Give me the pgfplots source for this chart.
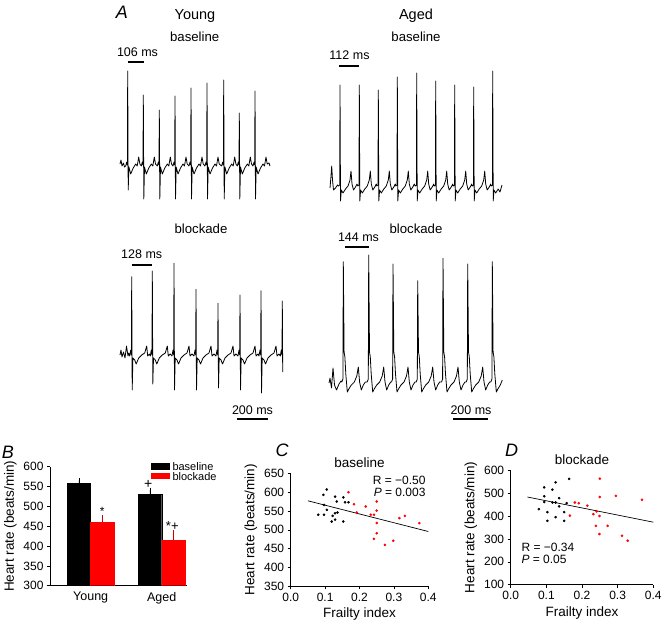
\documentclass[border=0pt]{standalone}
\usepackage{fontspec}
\setmainfont{Liberation Sans}
\usepackage{pgfplots}
\pgfplotsset{compat=1.18}

\newcommand{\fs}[1]{\fontsize{#1}{#1}\selectfont}

\pgfplotsset{
  panel/.style={
    scale only axis,
    anchor=south west,
    axis x line*=bottom,
    axis y line*=left,
    axis line style={line width=0.6pt},
    tick style={black, line width=0.6pt},
    tick align=outside,
    major tick length=3pt,
    /pgf/number format/assume math mode=true,
    ticklabel style={font=\fs{12}},
    label style={font=\fs{13.5}},
    title style={font=\fs{13.5}},
  },
  ecg/.style={black, line width=0.8pt, line join=round},
}

\begin{document}
\begin{tikzpicture}

% ---------- A: ECG traces, drawn in pixel units of the figure ----------
\begin{axis}[at={(0pt,0pt)}, anchor=south west, scale only axis,
    width=663pt, height=625pt, xmin=0, xmax=663, ymin=0, ymax=625,
    y dir=reverse, hide axis, clip=false]

% young, baseline
\addplot[ecg] coordinates {
 (120,164)(121,160)(122,166)(123.5,163)(124.5,167)
 (125.7,166)(126.7,162)(127.4,165)(127.7,71)(128.2,190)(128.9,167)(130.7,174)(133.2,168)(135.7,164)(137.2,166)(138.7,157)(139.9,164)
 (141.3,166)(142.3,162)(143.0,165)(143.3,95)(143.8,199)(144.5,167)(146.3,174)(148.8,168)(151.3,164)(152.8,166)(154.3,157)(155.5,164)
 (157.3,166)(158.3,162)(159.0,165)(159.3,110)(159.8,199)(160.5,167)(162.3,174)(164.8,168)(167.3,164)(168.8,166)(170.3,157)(171.5,164)
 (173,166)(174,162)(174.7,165)(175,96)(175.5,199)(176.2,167)(178,174)(180.5,168)(183,164)(184.5,166)(186,157)(187.2,164)
 (189,166)(190,162)(190.7,165)(191,88)(191.5,199)(192.2,167)(194,174)(196.5,168)(199,164)(200.5,166)(202,157)(203.2,164)
 (205,166)(206,162)(206.7,165)(207,83)(207.5,199)(208.2,167)(210,174)(212.5,168)(215,164)(216.5,166)(218,157)(219.2,164)
 (221.7,166)(222.7,162)(223.4,165)(223.7,80)(224.2,199)(224.9,167)(226.7,174)(229.2,168)(231.7,164)(233.2,166)(234.7,157)(235.9,164)
 (237.3,166)(238.3,162)(239.0,165)(239.3,113)(239.8,199)(240.5,167)(242.3,174)(244.8,168)(247.3,164)(248.8,166)(250.3,157)(251.5,164)
 (253,166)(254,162)(254.7,165)(255,91)(255.5,199)(256.2,167)(258,174)(260.5,168)(263,164)(264.5,166)(266,157)(267.2,164)
 (269,163)(270,166)
};

% aged, baseline
\addplot[ecg] coordinates {
 (330,188)(331,176)(331.7,166)(332.5,180)(333.5,190)(335.5,188)(337.5,185)
 (338.5,186)(339.7,185)(340,85)(340.5,201)(341.3,190)(343,193)(345.5,189)(348,186)(350,180)(351,171)(352,184)(353.5,190)(355.5,187)(357,184)
 (357.8,186)(359,185)(359.3,85)(359.8,201)(360.6,190)(362.3,193)(364.8,189)(367.3,186)(369.3,180)(370.3,171)(371.3,184)(372.8,190)(374.8,187)(376.3,184)
 (376.8,186)(378,185)(378.3,90)(378.8,201)(379.6,190)(381.3,193)(383.8,189)(386.3,186)(388.3,180)(389.3,171)(390.3,184)(391.8,190)(393.8,187)(395.3,184)
 (395.8,186)(397,185)(397.3,77)(397.8,201)(398.6,190)(400.3,193)(402.8,189)(405.3,186)(407.3,180)(408.3,171)(409.3,184)(410.8,190)(412.8,187)(414.3,184)
 (415.2,186)(416.4,185)(416.7,73)(417.2,201)(418,190)(419.7,193)(422.2,189)(424.7,186)(426.7,180)(427.7,171)(428.7,184)(430.2,190)(432.2,187)(433.7,184)
 (434.2,186)(435.4,185)(435.7,81)(436.2,201)(437,190)(438.7,193)(441.2,189)(443.7,186)(445.7,180)(446.7,171)(447.7,184)(449.2,190)(451.2,187)(452.7,184)
 (453.2,186)(454.4,185)(454.7,85)(455.2,201)(456,190)(457.7,193)(460.2,189)(462.7,186)(464.7,180)(465.7,171)(466.7,184)(468.2,190)(470.2,187)(471.7,184)
 (472.2,186)(473.4,185)(473.7,87)(474.2,201)(475,190)(476.7,193)(479.2,189)(481.7,186)(483.7,180)(484.7,171)(485.7,184)(487.2,190)(489.2,187)(490.7,184)
 (491.2,186)(492.4,185)(492.7,71)(493.2,201)(494,190)(495.7,193)(498.2,189)(500,192)(502,185)
};

% young, blockade
\addplot[ecg] coordinates {
 (120,355)(121,350)(122,357)(123.5,352)(125,358)(126.5,346)(128,356)(128.7,353)
 (129.7,356)(130.7,350)(131.4,355)(131.7,276.7)(132.2,390)(132.9,358)(134.7,360)(136.2,364)(138.7,358)(141.7,355)(144.7,353)(146.7,346)(147.7,356)(149.3,354)
 (150.3,356)(151.3,350)(152,355)(152.3,271)(152.8,384)(153.5,358)(155.3,360)(156.8,364)(159.3,358)(162.3,355)(165.3,353)(167.3,346)(168.3,356)(170.3,354)
 (172,356)(173,350)(173.7,355)(174,263.3)(174.5,390)(175.2,358)(177,360)(178.5,364)(181,358)(184,355)(187,353)(189,346)(190,356)(192,354)
 (194,356)(195,350)(195.7,355)(196,289.3)(196.5,390)(197.2,358)(199,360)(200.5,364)(203,358)(206,355)(209,353)(211,346)(212,356)(214,354)
 (216,356)(217,350)(217.7,355)(218,303.3)(218.5,388)(219.2,358)(221,360)(222.5,364)(225,358)(228,355)(231,353)(233,346)(234,356)(236,354)
 (238,356)(239,350)(239.7,355)(240,295)(240.5,390)(241.2,358)(243,360)(244.5,364)(247,358)(250,355)(253,353)(255,346)(256,356)(258,354)
 (259,356)(260,350)(260.7,355)(261,290.7)(261.5,393)(262.2,358)(264,360)(265.5,364)(268,358)(271,355)(274,353)(276,346)(277,356)(279,354)
 (280.3,356)(281.3,350)(282,355)(282.3,301)(282.7,372)
};

% aged, blockade
\addplot[ecg] coordinates {
 (329,383)(330,378)(331.5,388)(333,368)(334.5,385)(336.5,390)(339,384)(341,381)
 (341.8,382)(342.9,379)(343.3,261.7)(344.1,352)(344.9,357)(345.8,374)(347.3,392)(348.8,389)(351.3,385)(354.3,382)(356.8,376)(358.3,367)(359.6,382)(361.3,390)(363.3,385)(365.3,382)
 (367.2,382)(368.3,379)(368.7,255)(369.5,352)(370.3,357)(371.2,374)(372.7,392)(374.2,389)(376.7,385)(379.7,382)(382.2,376)(383.7,367)(385,382)(386.7,390)(388.7,385)(390.7,382)
 (391.5,382)(392.6,379)(393,264)(393.8,352)(394.6,357)(395.5,374)(397,392)(398.5,389)(401,385)(404,382)(406.5,376)(408,367)(409.3,382)(411,390)(413,385)(415,382)
 (416.2,382)(417.3,379)(417.7,280.7)(418.5,352)(419.3,357)(420.2,374)(421.7,392)(423.2,389)(425.7,385)(428.7,382)(431.2,376)(432.7,367)(434,382)(435.7,390)(437.7,385)(439.7,382)
 (441.5,382)(442.6,379)(443,258.3)(443.8,352)(444.6,357)(445.5,374)(447,392)(448.5,389)(451,385)(454,382)(456.5,376)(458,367)(459.3,382)(461,390)(463,385)(465,382)
 (466.2,382)(467.3,379)(467.7,264)(468.5,352)(469.3,357)(470.2,374)(471.7,392)(473.2,389)(475.7,385)(478.7,382)(481.2,376)(482.7,367)(484,382)(485.7,390)(487.7,385)(489.7,382)
 (490.8,382)(491.9,379)(492.3,261.7)(493.1,352)(493.9,357)(494.8,374)(496.3,392)(497.8,389)(500.3,385)(502.3,380)
};

% scale bars (RR intervals and 200 ms)
\addplot[black, line width=1.8pt] coordinates {(127.7,61.7)(144.3,61.7)};
\addplot[black, line width=1.8pt] coordinates {(339.3,66)(359.3,66)};
\addplot[black, line width=1.8pt] coordinates {(131.7,265)(152.3,265)};
\addplot[black, line width=1.8pt] coordinates {(345,247.3)(369,247.3)};
\addplot[black, line width=1.8pt] coordinates {(236.7,419.3)(268.3,419.3)};
\addplot[black, line width=1.8pt] coordinates {(453.3,419.3)(488.3,419.3)};

\node[font=\fs{18}\itshape] at (axis cs:122,12) {A};
\node[font=\fs{14.5}] at (axis cs:195,16) {Young};
\node[font=\fs{14.5}] at (axis cs:416,16) {Aged};
\node[font=\fs{13.2}] at (axis cs:194.7,37) {baseline};
\node[font=\fs{13.2}] at (axis cs:416,37) {baseline};
\node[font=\fs{13.2}] at (axis cs:201,229) {blockade};
\node[font=\fs{13.2}] at (axis cs:416,229) {blockade};
\node[font=\fs{12.5}] at (axis cs:137.5,52) {106 ms};
\node[font=\fs{12.5}] at (axis cs:349.5,55) {112 ms};
\node[font=\fs{12.5}] at (axis cs:141.7,254) {128 ms};
\node[font=\fs{12.5}] at (axis cs:358.5,237.7) {144 ms};
\node[font=\fs{12.5}] at (axis cs:252.5,410) {200 ms};
\node[font=\fs{12.5}] at (axis cs:471,410) {200 ms};

% panel letters, legend of B and annotations of B, C, D
\node[font=\fs{18}\itshape] at (axis cs:8,452) {B};
\node[font=\fs{18}\itshape] at (axis cs:282,450) {C};
\node[font=\fs{18}\itshape] at (axis cs:511.7,450) {D};
\fill[black] (axis cs:151,463.3) rectangle (axis cs:170,470);
\fill[red] (axis cs:151,472.7) rectangle (axis cs:170,479.3);
\node[font=\fs{11}, anchor=west, inner sep=0pt] at (axis cs:172.3,466.3) {baseline};
\node[font=\fs{11}, anchor=west, inner sep=0pt] at (axis cs:172.3,476.5) {blockade};
\node[font=\fs{12}] at (axis cs:102.3,511) {*};
\node[font=\fs{14}] at (axis cs:148.3,484.3) {+};
\node[font=\fs{13}] at (axis cs:172.3,526) {*+};
\node[font=\fs{12}, anchor=east] at (axis cs:429,480.7) {R = −0.50};
\node[font=\fs{12}, anchor=east] at (axis cs:429,492.3) {\textit{P} = 0.003};
\node[font=\fs{12}, anchor=west] at (axis cs:518,547.3) {R = −0.34};
\node[font=\fs{12}, anchor=west] at (axis cs:518,559) {\textit{P} = 0.05};
\end{axis}

% ---------- B: mean heart rate ----------
\begin{axis}[panel, at={(50pt,39.3pt)}, width=136.7pt, height=119pt,
    ybar=0pt, bar width=23.5pt,
    xmin=-0.573, xmax=1.352, ymin=300, ymax=600,
    ytick={300,350,...,600},
    xtick={0,1}, xticklabels={Young, Aged},
    xtick style={draw=none},
    xticklabel style={font=\fs{12.5}},
    ylabel={Heart rate (beats/min)},
]
\addplot[fill=black, draw=black,
    error bars/.cd, y dir=plus, y explicit,
    error bar style={black, line width=0.6pt},
    error mark options={black, mark size=2pt, line width=0.6pt}]
    coordinates {(0,558) +- (0,8.5) (1,530.5) +- (0,11)};
\addplot[fill=red, draw=red,
    error bars/.cd, y dir=plus, y explicit,
    error bar style={red!80!black, line width=0.6pt},
    error mark options={red!80!black, mark size=2pt, line width=0.6pt}]
    coordinates {(0,460) +- (0,12.5) (1,415) +- (0,19.5)};
\end{axis}

% ---------- C: heart rate vs frailty, baseline ----------
\begin{axis}[panel, at={(290.7pt,38.7pt)}, width=137.6pt, height=113pt,
    xmin=0, xmax=0.4, ymin=350, ymax=650,
    xtick={0,0.1,...,0.4}, ytick={350,400,...,650},
    xticklabel style={/pgf/number format/.cd, fixed, fixed zerofill, precision=1},
    xlabel={Frailty index}, ylabel={Heart rate (beats/min)},
    title={baseline}, title style={yshift=-4pt},
]
\addplot[only marks, mark=*, mark size=1.1pt, black] coordinates {
 (0.105,607)(0.095,593)(0.129,588)(0.153,586)(0.097,566)(0.105,553)(0.134,575)
 (0.080,540)(0.097,540)(0.129,544)(0.136,546)(0.122,537)(0.119,522)(0.129,527)
 (0.153,522)(0.158,573)(0.168,573)
};
\addplot[only marks, mark=*, mark size=1.1pt, red] coordinates {
 (0.168,600)(0.184,568)(0.192,546)(0.218,562)(0.233,540)(0.242,540)(0.250,575)
 (0.250,551)(0.250,518)(0.250,491)(0.242,476)(0.274,460)(0.298,471)(0.316,531)
 (0.332,537)(0.374,518)
};
\addplot[black, line width=0.7pt] coordinates {(0.05,577)(0.4,495.5)};
\end{axis}

% ---------- D: heart rate vs frailty, blockade ----------
\begin{axis}[panel, at={(510.7pt,40.3pt)}, width=142.6pt, height=114.5pt,
    xmin=0, xmax=0.4, ymin=100, ymax=600,
    xtick={0,0.1,...,0.4}, ytick={100,200,...,600},
    xticklabel style={/pgf/number format/.cd, fixed, fixed zerofill, precision=1},
    xlabel={Frailty index}, ylabel={Heart rate (beats/min)},
    title={blockade}, title style={yshift=-4pt},
]
\addplot[only marks, mark=*, mark size=1.1pt, black] coordinates {
 (0.094,525)(0.117,515)(0.094,486)(0.126,547)(0.136,478)(0.164,562)(0.094,461)
 (0.117,459)(0.126,459)(0.136,442)(0.157,456)(0.079,430)(0.103,417)(0.150,417)
 (0.126,395)(0.103,379)(0.150,379)
};
\addplot[only marks, mark=*, mark size=1.1pt, red] coordinates {
 (0.250,563)(0.250,483)(0.295,488)(0.368,471)(0.180,459)(0.191,456)(0.215,445)
 (0.166,402)(0.232,408)(0.241,420)(0.249,400)(0.239,357)(0.272,357)(0.249,321)
 (0.312,314)(0.328,292)
};
\addplot[black, line width=0.7pt] coordinates {(0.047,483)(0.4,373)};
\end{axis}

\pgfresetboundingbox
\path[use as bounding box] (0pt,0pt) rectangle (663pt,625pt);
\end{tikzpicture}
\end{document}
